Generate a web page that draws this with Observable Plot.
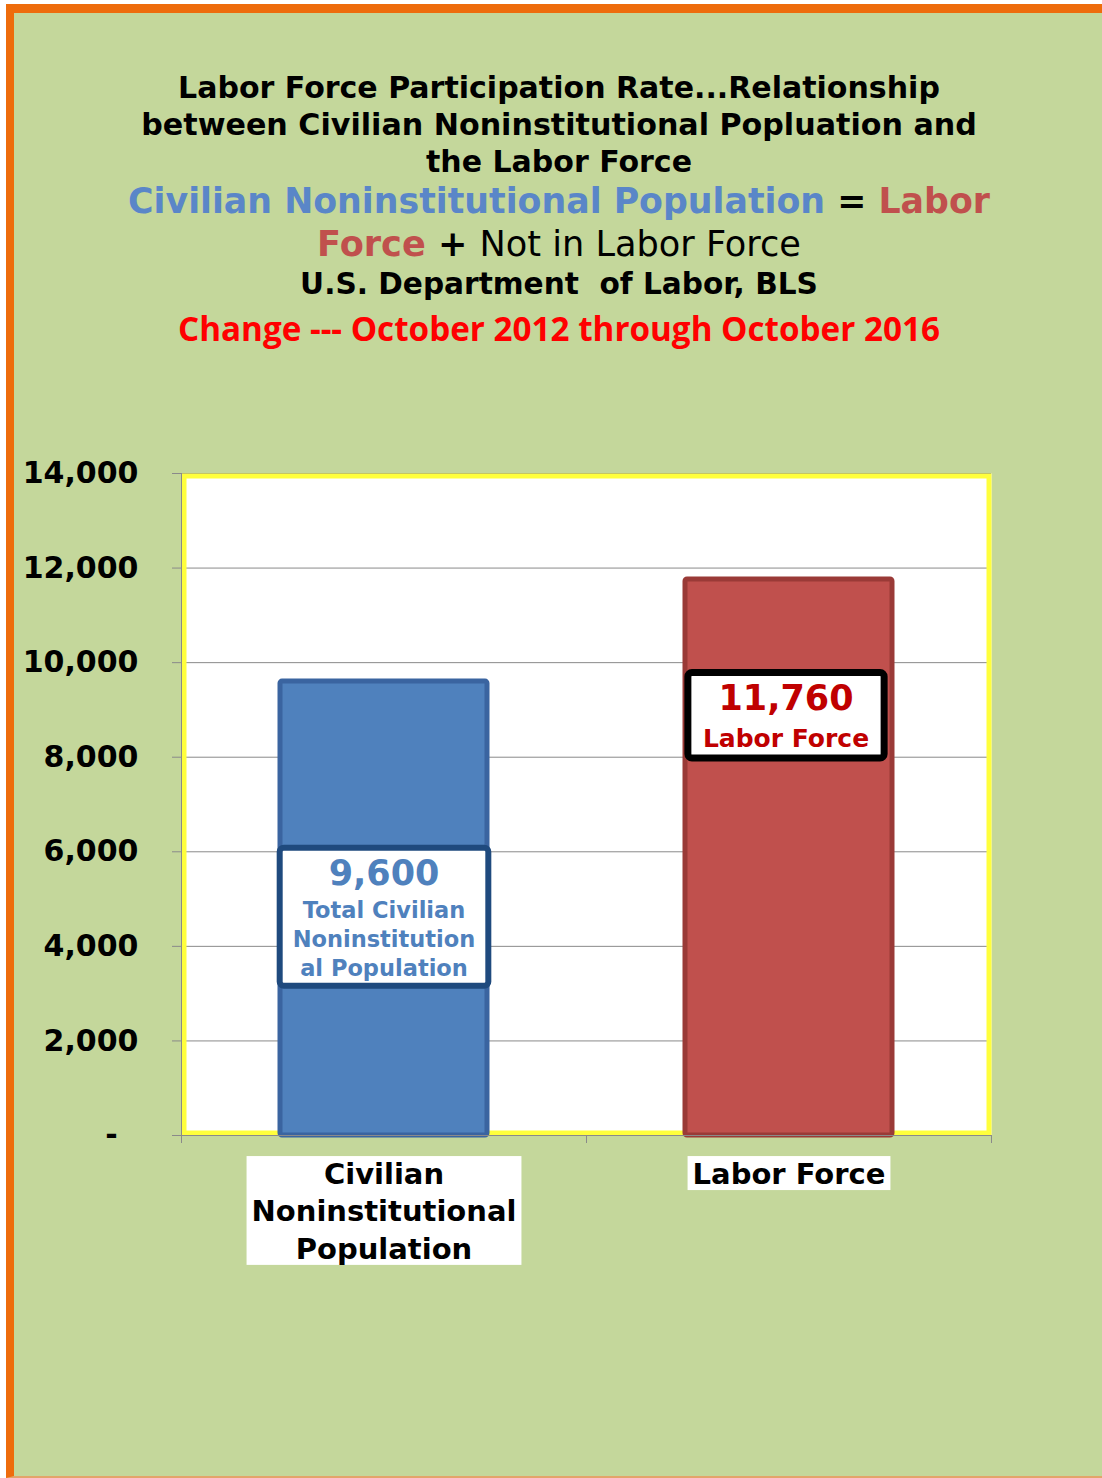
<!DOCTYPE html>
<html>
<head>
<meta charset="utf-8">
<script src="https://cdn.jsdelivr.net/npm/d3@7"></script>
<script src="https://cdn.jsdelivr.net/npm/@observablehq/plot@0.6"></script>
<style>
  html, body { margin: 0; padding: 0; background: #ffffff; }
  body { width: 1102px; height: 1478px; position: relative; overflow: hidden; }
  #page {
    position: absolute; left: 6px; top: 4px; width: 1096px; height: 1474px;
    box-sizing: border-box; background: #c4d79b;
    border-top: 9px solid #ee6c0c; border-left: 8px solid #ee6c0c; border-bottom: 2px solid #e3a46a;
  }
  .tl {
    position: absolute; left: 8px; width: 1102px; text-align: center;
    height: 40px; line-height: 40px; white-space: nowrap;
    font-family: "DejaVu Sans", sans-serif; font-weight: bold; color: #000;
  }
  .tl span.fit { display: inline-block; }
  #chart { position: absolute; left: 0; top: 420px; }
  #err { position: absolute; left: 20px; top: 1400px; font: 14px monospace; color: #900; }
</style>
</head>
<body>
<div id="page"></div>
<div class="tl" style="top:68px;font-size:27.5px"><span class="fit" data-w="762">Labor Force Participation Rate...Relationship</span></div>
<div class="tl" style="top:105px;font-size:27.5px"><span class="fit" data-w="836">between Civilian Noninstitutional Popluation and</span></div>
<div class="tl" style="top:142px;font-size:27.5px"><span class="fit" data-w="266">the Labor Force</span></div>
<div class="tl" style="top:181px;font-size:34px"><span class="fit" data-w="862"><span style="color:#5a86c8">Civilian Noninstitutional Population</span> = <span style="color:#c0504d">Labor</span></span></div>
<div class="tl" style="top:224px;font-size:34px"><span class="fit" data-w="484"><span style="color:#c0504d">Force</span> + <span style="font-weight:normal">Not in Labor Force</span></span></div>
<div class="tl" style="top:264px;font-size:27.5px"><span class="fit" data-w="518">U.S. Department&nbsp; of Labor, BLS</span></div>
<div class="tl" style="top:308px;font-size:31px;font-family:'Open Sans', sans-serif;color:#ff0000"><span class="fit" data-w="762">Change --- October 2012 through October 2016</span></div>
<div id="chart"></div>
<div id="err"></div>
<script>
// ---- data ----
const categories = ["Civilian Noninstitutional Population", "Labor Force"];
const values = [9600, 11760];
const axisLabels = ["Civilian\nNoninstitutional\nPopulation", "Labor Force"];
const valueLabels = ["9,600", "11,760"];
const descLabels = ["Total Civilian\nNoninstitution\nal Population", "Labor Force"];
const yTicks = [0, 2000, 4000, 6000, 8000, 10000, 12000, 14000];
const barColors = ["#4f81bd", "#c0504d"];
const barBorders = ["#3a64a0", "#9a3a37"];
const labelColors = ["#4f81bd", "#c00000"];
const boxStrokes = ["#1f4a7e", "#000000"];

const data = categories.map((c, i) => ({
  cat: c, value: values[i], axisLabel: axisLabels[i],
  valueLabel: valueLabels[i], desc: descLabels[i]
}));

try {
// fit title lines to target width via font size
document.querySelectorAll(".fit").forEach(el => {
  const target = +el.dataset.w;
  const w = el.getBoundingClientRect().width;
  const fs = parseFloat(getComputedStyle(el).fontSize);
  el.style.fontSize = (fs * target / w) + "px";
});

const W = 1102, ML = 181, MR = 111;
const step = (W - ML - MR) / categories.length;
const dv = "DejaVu Sans, sans-serif";

const valueDy = [192, 119];
const descDy = [256, 158];

const chart = Plot.plot({
  width: W, height: 900,
  marginTop: 53, marginBottom: 185, marginLeft: ML, marginRight: MR,
  style: { background: "transparent", overflow: "visible" },
  x: { domain: categories, paddingInner: 0.489, paddingOuter: 0.2445, label: null },
  y: { domain: [0, 14000], label: null },
  marks: [
    Plot.frame({ fill: "white", stroke: null }),
    Plot.gridY(yTicks, { stroke: "#8a8a8a", strokeOpacity: 1, strokeWidth: 1 }),
    Plot.frame({ stroke: "#ffff3c", strokeWidth: 5, inset: 2.5 }),
    ...categories.map((c, i) => Plot.barY(data.filter(d => d.cat === c), {
      x: "cat", y: "value", fill: barColors[i], stroke: barBorders[i], strokeWidth: 5, rx: 2
    })),
    Plot.ruleY([0], { stroke: "#8a8a8a", insetLeft: -9 }),
    Plot.frame({ anchor: "left", stroke: "#8a8a8a" }),
    Plot.axisY({
      ticks: yTicks, tickSize: 9, tickPadding: 34, label: null,
      tickFormat: d => d === 0 ? "-\u00a0\u00a0" : d3.format(",")(d),
      fontSize: 30, fontWeight: "bold", fill: "#000", stroke: "#8a8a8a",
      fontFamily: dv
    }),
    Plot.axisX({ ticks: categories, tickSize: 8, tickFormat: () => "", label: null, stroke: "#8a8a8a", dx: -step / 2 }),
    Plot.axisX({ ticks: [categories[categories.length - 1]], tickSize: 8, tickFormat: () => "", label: null, stroke: "#8a8a8a", dx: step / 2 }),
    // category labels
    Plot.text(data, {
      x: "cat", frameAnchor: "bottom", text: "axisLabel", lineAnchor: "top", dy: 22,
      fontSize: 29, fontWeight: "bold", lineHeight: 1.29, fill: "#000",
      fontFamily: dv
    }),
    // bar labels
    ...categories.map((c, i) => Plot.text(data.filter(d => d.cat === c), {
      x: "cat", y: "value", text: "valueLabel", dy: valueDy[i],
      fontSize: 35, fontWeight: "bold", fill: labelColors[i], fontFamily: dv,
      dx: i === 0 ? 0 : -3
    })),
    ...categories.map((c, i) => Plot.text(data.filter(d => d.cat === c), {
      x: "cat", y: "value", text: "desc", dy: descDy[i],
      fontSize: i === 0 ? 22.5 : 25, fontWeight: "bold", lineHeight: i === 0 ? 1.29 : 1.2,
      fill: labelColors[i], fontFamily: dv,
      dx: i === 0 ? 0 : -3
    }))
  ]
});

document.getElementById("chart").appendChild(chart);

// backgrounds / boxes behind text, sized from the rendered text
const svg = chart;
const sRect = svg.getBoundingClientRect();
const NS = "http://www.w3.org/2000/svg";
const texts = [...svg.querySelectorAll("text")];
const used = new Set();
const norm = s => s.replace(/\s+/g, "");
function findText(str) {
  const t = texts.find(t => !used.has(t) && norm(t.textContent) === norm(str));
  if (t) used.add(t);
  return t;
}
function addRect(box, attrs, beforeEl) {
  const r = document.createElementNS(NS, "rect");
  r.setAttribute("x", box.x - sRect.left);
  r.setAttribute("y", box.y - sRect.top);
  r.setAttribute("width", box.w);
  r.setAttribute("height", box.h);
  for (const k in attrs) r.setAttribute(k, attrs[k]);
  const g = beforeEl.closest("g") || beforeEl;
  g.parentNode.insertBefore(r, g);
}
// category label white boxes (these texts come first in the document)
axisLabels.forEach(lbl => {
  const t = findText(lbl);
  if (!t) return;
  const b = t.getBoundingClientRect();
  addRect({ x: b.left - 5, y: b.top - 1, w: b.width + 10, h: b.height }, { fill: "white" }, t);
});
// bar label boxes
categories.forEach((c, i) => {
  const ts = [findText(valueLabels[i]), findText(descLabels[i])].filter(Boolean);
  if (!ts.length) return;
  let x0 = Infinity, y0 = Infinity, x1 = -Infinity, y1 = -Infinity;
  ts.forEach(t => { const b = t.getBoundingClientRect(); x0 = Math.min(x0, b.left); y0 = Math.min(y0, b.top); x1 = Math.max(x1, b.right); y1 = Math.max(y1, b.bottom); });
  const padX = i === 0 ? 13 : 15, padY = i === 0 ? 5 : 5;
  addRect({ x: x0 - padX, y: y0 - padY, w: (x1 - x0) + 2 * padX, h: (y1 - y0) + 2 * padY },
    { fill: "white", stroke: boxStrokes[i], "stroke-width": i === 0 ? 6 : 7, rx: 4 }, ts[0]);
});
} catch (e) {
  document.getElementById("err").textContent = String(e && e.stack || e);
}
</script>
</body>
</html>
